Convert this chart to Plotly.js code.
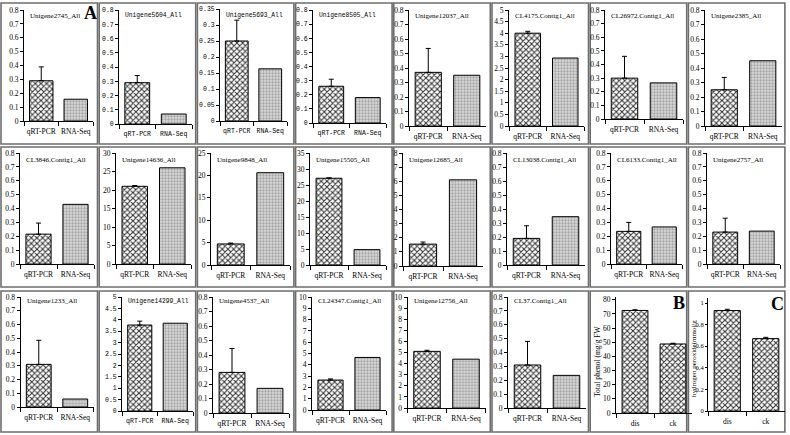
<!DOCTYPE html>
<html><head><meta charset="utf-8">
<script src="https://cdn.plot.ly/plotly-3.0.1.min.js"></script>
<style>html,body{margin:0;padding:0;background:#fff}#chart{width:790px;height:435px}</style>
</head><body><div id="chart"></div>
<script>
// ---------- data ----------
const geneNames = ["Unigene2745_All","Unigene5604_All","Unigene5693_All","Unigene8505_All",
  "Unigene12037_All","CL4175.Contig1_All","CL26972.Contig1_All","Unigene2385_All",
  "CL3846.Contig1_All","Unigene14636_All","Unigene9848_All","Unigene15505_All",
  "Unigene12685_All","CL13038.Contig1_All","CL6133.Contig1_All","Unigene2757_All",
  "Unigene1233_All","Unigene14299_All","Unigene4537_All","CL24347.Contig1_All",
  "Unigene12756_All","CL37.Contig1_All"];
const methodCategories = ["qRT-PCR","RNA-Seq"];
const qrtValues = [0.29,0.29,0.25,0.26,0.37,4.0,0.30,0.25,
  0.215,21.0,4.7,27.1,1.55,0.19,0.235,0.23,
  0.31,3.77,0.28,2.65,5.1,0.31];
const qrtErrors = [0.10,0.05,0.065,0.05,0.165,0.08,0.16,0.085,
  0.08,0.2,0.2,0.15,0.15,0.09,0.065,0.10,
  0.175,0.17,0.165,0.1,0.1,0.17];
const rnaValues = [0.157,0.07,0.163,0.18,0.35,2.93,0.265,0.45,
  0.43,26.0,20.6,4.8,6.1,0.345,0.267,0.237,
  0.058,3.85,0.17,4.65,4.4,0.235];
const yMaxValues = [0.8,0.8,0.35,0.8,0.8,5,0.8,0.8,
  0.8,30,25,35,8,0.8,0.8,0.8,
  0.8,5,0.8,10,10,0.8];
const yStepValues = [0.1,0.1,0.05,0.1,0.1,0.5,0.1,0.1,
  0.1,5,5,5,1,0.1,0.1,0.1,
  0.1,0.5,0.1,1,1,0.1];

const treatmentCategories = ["dis","ck"];
const phenolValues = [72.5,48.8];
const phenolErrors = [0.5,0.5];
const peroxideValues = [0.93,0.67];
const peroxideErrors = [0.012,0.012];
const phenolTitle = "Total phenol (mg/g FW";
const peroxideTitle = "hydrogen peroxide(mmol/g";
const panelLetters = ["A","B","C"];

// ---------- layout geometry (pixels) ----------
const W = 790, H = 435;
const fx = p => p / W;
const fy = p => 1 - p / H;
// [axis left, category width, top y, zero y]
const geom = [
  [24,34.5,10,121],[119,36.5,10,124],[220,33.5,9,121],[313,36.5,10,123],
  [409,38.5,10,126],[509,37.5,10,126],[605,39,10,119],[705,38.5,10,126],
  [20,37,153,264],[116,37.5,153,264],[211,39.5,153,265],[310,38,153,265],
  [403,40,153,266],[507,39,153,265],[611,35.5,153,264],[707,36.5,153,264],
  [20.5,36.5,297,407],[122,35.5,297,411],[213,38,297,413],[312,37,297,410],
  [407.5,39,297,408],[508,39,297,408],[616,38,297,413],[708,38.5,297.6,411]
];
const monoPanels = [1,2,3,17];
const titleRowY = [15.5,159.5,301];
const SERIF = "Liberation Serif, Times New Roman, serif";
const MONO = "Liberation Mono, DejaVu Sans Mono, monospace";

const data = [];
const layout = {
  width: W, height: H, margin:{l:0,r:0,t:0,b:0},
  paper_bgcolor:'white', plot_bgcolor:'rgba(0,0,0,0)',
  showlegend:false, bargap:0.32, shapes:[], annotations:[]
};

const qrtPattern = {shape:'x', fgcolor:'#333333', bgcolor:'#ffffff', size:4, solidity:0.45, fillmode:'replace'};
const rnaPattern = {shape:'.', fgcolor:'#a4a4a4', bgcolor:'#dadada', size:3, solidity:0.45, fillmode:'replace'};

for (let i = 0; i < 24; i++) {
  const n = i + 1;
  const xk = 'xaxis' + (n === 1 ? '' : n), yk = 'yaxis' + (n === 1 ? '' : n);
  const xr = 'x' + (n === 1 ? '' : n), yr = 'y' + (n === 1 ? '' : n);
  const [ax, d, top, zero] = geom[i];
  const mono = monoPanels.includes(i);
  const font = mono ? MONO : SERIF;
  const small = i === 23;
  let cats, vals, errs, ymax, ystep, pattern;
  if (i < 22) {
    cats = methodCategories; vals = [qrtValues[i], rnaValues[i]];
    errs = [qrtErrors[i], NaN]; ymax = yMaxValues[i]; ystep = yStepValues[i];
    pattern = {shape:[qrtPattern.shape, rnaPattern.shape], fgcolor:[qrtPattern.fgcolor, rnaPattern.fgcolor],
      bgcolor:[qrtPattern.bgcolor, rnaPattern.bgcolor], size:[qrtPattern.size, rnaPattern.size],
      solidity:[qrtPattern.solidity, rnaPattern.solidity], fillmode:'replace'};
  } else if (i === 22) {
    cats = treatmentCategories; vals = phenolValues; errs = phenolErrors; ymax = 82; ystep = 10;
    pattern = qrtPattern;
  } else {
    cats = treatmentCategories; vals = peroxideValues; errs = peroxideErrors; ymax = 1.05; ystep = 0.2;
    pattern = qrtPattern;
  }
  data.push({
    type:'bar', x:cats, y:vals, xaxis:xr, yaxis:yr, hoverinfo:'skip',
    marker:{color:'#ffffff', pattern:pattern, line:{color:'#000', width:1}},
    error_y:{type:'data', symmetric:false, array:errs, arrayminus:errs.map(e => isNaN(e) ? NaN : 0),
      color:'#000', thickness:1, width:2.5, visible:true}
  });
  layout[xk] = {
    domain:[fx(ax), fx(ax + 2*d)], anchor:yr, type:'category', range:[-0.5,1.5],
    showline:true, linecolor:'#000', linewidth:1, showgrid:false, zeroline:false,
    ticks:'outside', tickson:'boundaries', ticklen:4, tickcolor:'#000', tickwidth:1,
    tickangle:0, automargin:false, ticklabelstandoff:3,
    tickfont:{family: mono ? MONO : SERIF, size: mono ? 6.5 : 7.5, color:'#000'}, fixedrange:true
  };
  layout[yk] = {
    domain:[fy(zero), fy(top)], anchor:xr, range:[0, ymax], automargin:false,
    showline:true, linecolor:'#000', linewidth:1, showgrid:false, zeroline:false,
    ticks:'outside', ticklen: small ? 2 : 3, tickcolor:'#000', tickwidth:1, dtick:ystep, tick0:0,
    tickfont:{family:font, size: mono ? 6.5 : (small ? 6.5 : 7.5), color:'#000'}, fixedrange:true
  };
  if (i < 22) {
    layout.annotations.push({
      text: geneNames[i], xref:'paper', yref:'paper', x: fx(ax + 4), y: fy(titleRowY[Math.floor(i/8)]),
      xanchor:'left', yanchor:'middle', showarrow:false,
      font:{family:font, size: mono ? 6.3 : 7, color:'#000'}
    });
  }
}

// panel frames
const rowsY = [[3,144],[147,287],[291,432]];
for (let r = 0; r < 3; r++) {
  for (let c = 0; c < 8; c++) {
    const x0 = 1 + c * 98.2;
    layout.shapes.push({type:'rect', xref:'paper', yref:'paper',
      x0: fx(x0), x1: fx(x0 + 96.5), y0: fy(rowsY[r][1]), y1: fy(rowsY[r][0]),
      line:{color:'#6e6e6e', width:1.6}, fillcolor:'rgba(0,0,0,0)', layer:'below'});
  }
}

// y-axis titles of B and C
layout.annotations.push({text:phenolTitle, xref:'paper', yref:'paper', x:fx(597), y:fy(362),
  textangle:-90, showarrow:false, xanchor:'center', yanchor:'middle', font:{family:SERIF, size:7.5, color:'#000'}});
layout.annotations.push({text:peroxideTitle, xref:'paper', yref:'paper', x:fx(694), y:fy(359),
  textangle:-90, showarrow:false, xanchor:'center', yanchor:'middle', font:{family:SERIF, size:7, color:'#000'}});

// panel letters
const letterPos = [[90,13],[679,303],[777,304]];
panelLetters.forEach((t, k) => layout.annotations.push({text:'<b>' + t + '</b>', xref:'paper', yref:'paper',
  x:fx(letterPos[k][0]), y:fy(letterPos[k][1]), showarrow:false, xanchor:'center', yanchor:'middle',
  font:{family:SERIF, size:18, color:'#000'}}));

Plotly.newPlot('chart', data, layout, {displayModeBar:false, staticPlot:true});
</script></body></html>
